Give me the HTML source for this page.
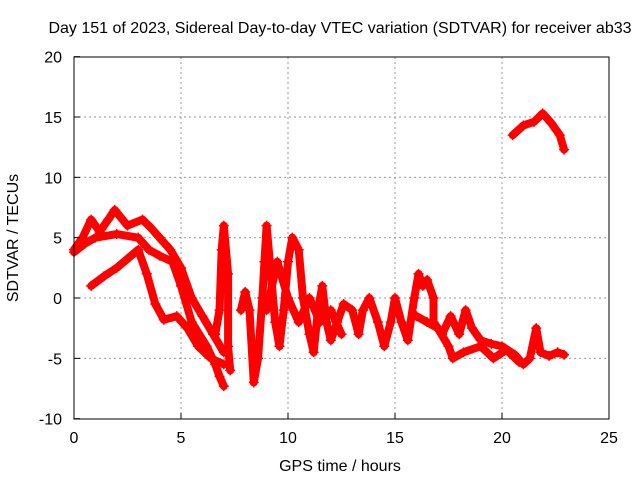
<!DOCTYPE html>
<html><head><meta charset="utf-8"><style>
body{margin:0;background:#fff;font-family:"Liberation Sans",sans-serif}
svg text{font-family:"Liberation Sans",sans-serif;font-size:16px;fill:#000}
</style></head><body>
<svg width="640" height="480" id="chart">
<text x="340" y="33" text-anchor="middle">Day 151 of 2023, Sidereal Day-to-day VTEC variation (SDTVAR) for receiver ab33</text>
<text x="340" y="471" text-anchor="middle">GPS time / hours</text>
<text transform="translate(18,238) rotate(-90)" text-anchor="middle">SDTVAR / TECUs</text>
<g id="grid"></g><g id="marks"></g>
<rect x="74" y="57" width="535" height="362" fill="none" stroke="#000"/>
<g id="ticks"></g>
</svg>
<script>
const xTicks=[0,5,10,15,20,25];
const yTicks=[-10,-5,0,5,10,15,20];
const trackUpperA=[[0,4],[0.4,5],[0.8,6.5],[1.2,5.5],[1.6,6.5],[1.9,7.3],[2.5,6],[3.2,6.5],[3.6,5.8],[4,5],[4.5,4],[5,2.5],[5.5,0],[6,-1.5],[6.5,-3],[7,-4.5]];
const trackUpperB=[[0,3.8],[0.5,4.5],[1,5],[2,5.3],[3,5],[3.5,4],[4,3.5],[4.6,3],[5,1],[5.5,-2],[6.2,-4],[6.6,-5.5],[6.8,-6.5],[7,-7.3]];
const trackLower=[[0.8,1],[1.4,1.8],[2,2.5],[2.6,3.4],[3,4],[3.4,2],[3.8,-0.5],[4.2,-1.8],[4.8,-1.5],[5.3,-2.5],[5.8,-4],[6.4,-5],[7,-5.5]];
const trackSpike1=[[6.6,-3],[6.8,-1],[6.9,4],[7.0,6],[7.2,2],[7.2,-4],[7.3,-6]];
const trackMain=[[7.8,-1],[8.0,0.5],[8.2,-1],[8.4,-7],[8.6,-5],[8.8,0],[8.9,3],[9.0,6],[9.2,2],[9.4,-2],[9.6,-4],[9.8,-1],[10,3],[10.2,5],[10.5,4],[10.7,0],[11,-3],[11.2,-4.5],[11.4,-1],[11.6,1],[11.8,-2],[12,-3.5],[12.3,-2],[12.6,-0.5],[13,-1],[13.3,-3],[13.5,-1],[13.8,0],[14.2,-2],[14.5,-4],[14.8,-2],[15,0],[15.3,-2],[15.6,-3.5],[15.9,0],[16.1,2],[16.3,1],[16.5,1.5],[16.8,0],[16.8,-2],[17.2,-3],[17.6,-1.5],[18,-3],[18.3,-1],[18.6,-2.5],[19,-3.5],[19.5,-3.8],[20,-4],[20.6,-4.7],[21,-5.5],[21.3,-5],[21.6,-2.5],[21.8,-4.5],[22.2,-4.8],[22.6,-4.5],[22.9,-4.7]];
const trackMid=[[9,-1],[9.5,3],[10,0],[10.5,-2],[11,0],[11.5,-2],[12,-1],[12.5,-3]];
const trackLate=[[16,-1.5],[16.5,-2],[17,-2.5],[17.5,-4],[17.7,-5],[18.2,-4.5],[19,-4],[19.6,-5],[20.2,-4.3],[20.8,-5.3]];
const trackTop=[[20.5,13.5],[21,14.3],[21.5,14.6],[21.9,15.3],[22.3,14.5],[22.7,13.5],[22.9,12.3]];
const tracks=[trackUpperA,trackUpperB,trackLower,trackSpike1,trackMain,trackMid,trackLate,trackTop];
const NS="http://www.w3.org/2000/svg";
const X=h=>74+h*535/25, Y=v=>298-v*362/30;
const grid=document.getElementById('grid'),ticks=document.getElementById('ticks'),marks=document.getElementById('marks');
function mk(tag,at,p){const e=document.createElementNS(NS,tag);for(const k in at)e.setAttribute(k,at[k]);p.appendChild(e);return e;}
xTicks.forEach(t=>{const x=X(t);
 if(t>0&&t<25){const g=mk('line',{x1:x,x2:x,y1:57,y2:419,stroke:'#999','stroke-dasharray':'2,3'},grid);
 }
 const tk=mk('line',{x1:x,x2:x,y1:419,y2:413,stroke:'#000'},ticks);
 
 const l=mk('text',{x:x,y:443,'text-anchor':'middle'},ticks);l.textContent=t;
 });
yTicks.forEach(t=>{const y=Y(t);
 if(t>-10&&t<20){const g=mk('line',{x1:74,x2:609,y1:y,y2:y,stroke:'#999','stroke-dasharray':'2,3'},grid);
 }
 const tk=mk('line',{x1:74,x2:80,y1:y,y2:y,stroke:'#000'},ticks);
 
 const l=mk('text',{x:62,y:y+6,'text-anchor':'end'},ticks);l.textContent=t;
 });
tracks.forEach(tr=>{
 const pl=mk('polyline',{points:tr.map(p=>X(p[0])+','+Y(p[1])).join(' '),fill:'none',stroke:'#f00','stroke-width':8,'stroke-linejoin':'round','stroke-linecap':'round'},marks);
 
 tr.forEach(p=>{const x=X(p[0]),y=Y(p[1]);
  const m=mk('path',{d:`M${x-5},${y}H${x+5}M${x},${y-5}V${y+5}`,stroke:'#f00','stroke-width':1.5},marks);
  });
});
</script>
</body></html>
